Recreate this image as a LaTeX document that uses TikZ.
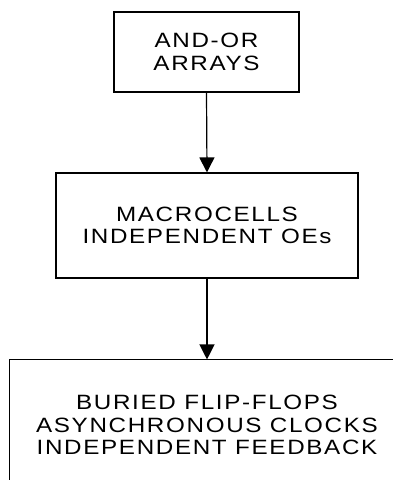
\documentclass[tikz,border=0pt]{standalone}
\usepackage{fontspec}
\setmainfont{Liberation Sans}[FakeStretch=1.17, LetterSpace=8]
\usetikzlibrary{arrows.meta}
\tikzset{
  box/.style={draw, line width=1.1pt, inner sep=0pt, align=center,
    font=\fontsize{20.7pt}{22.3pt}\selectfont},
  openbox/.style={box, draw=none},
  flow/.style={line width=1.2pt, -{Triangle[width=15pt,length=15pt]}}
}
\begin{document}
\begin{tikzpicture}[x=1pt, y=-1pt]
  \path[use as bounding box, clip] (0,0) rectangle (393,480);

  \node[box, minimum width=185pt, minimum height=80pt] (arrays) at (206.5,52)
    {AND-OR\\ARRAYS};
  \node[box, minimum width=302pt, minimum height=105pt] (macro) at (207,225.5)
    {MACROCELLS\\INDEPENDENT OEs};
  \node[openbox, minimum width=394pt, minimum height=130pt] (buried) at (207,425)
    {BURIED FLIP-FLOPS\\ASYNCHRONOUS CLOCKS\\INDEPENDENT FEEDBACK};

  % the lowest block runs past the lower and right edges
  \draw[line width=1.1pt] (buried.south west) -- (buried.north west) -- (buried.north east);

  \draw[flow] (arrays.south) -- (macro.north);
  \draw[flow] (macro.south) -- (buried.north);
\end{tikzpicture}
\end{document}
